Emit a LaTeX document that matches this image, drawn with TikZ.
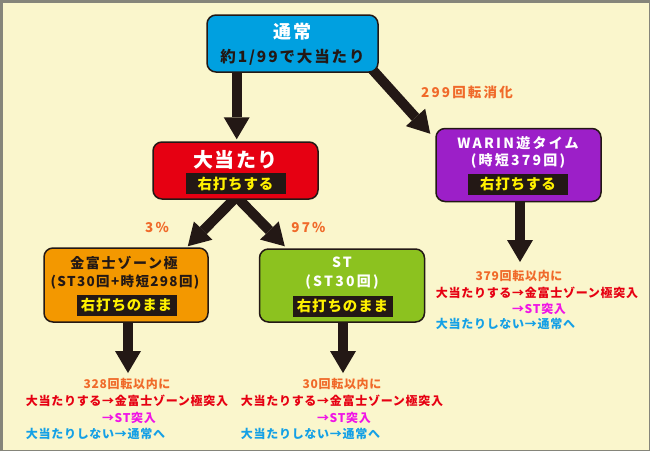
\documentclass[tikz,border=0pt]{standalone}
\usepackage{fontspec}
\usetikzlibrary{arrows.meta}
\newfontfamily\jpa{Noto Sans CJK JP}[LetterSpace=6]
\newfontfamily\jpb{Noto Sans CJK JP}[LetterSpace=12]
\newfontfamily\jpd{Noto Sans CJK JP}[LetterSpace=10]
\newfontfamily\jpc{Noto Sans CJK JP}[LetterSpace=16]
\definecolor{bgc}{HTML}{FAF6CC}
\definecolor{framec}{HTML}{85857A}
\definecolor{cblue}{HTML}{00A0E0}
\definecolor{cred}{HTML}{E60012}
\definecolor{cpurple}{HTML}{9C1FC8}
\definecolor{corange}{HTML}{F39800}
\definecolor{cgreen}{HTML}{8CC21F}
\definecolor{carrow}{HTML}{231815}
\definecolor{torange}{HTML}{F06A2A}
\definecolor{tred}{HTML}{E60012}
\definecolor{tmag}{HTML}{F014E6}
\definecolor{tblue}{HTML}{14A0E6}
\definecolor{tyellow}{HTML}{FFF100}
\pgfdeclarelayer{bg}
\pgfdeclarelayer{background}
\pgfsetlayers{bg,background,main}
\tikzset{
  box/.style={draw=carrow, line width=1.5pt, rounded corners=9pt, inner sep=0pt},
  bar/.style={fill=carrow, inner sep=0pt, minimum width=100pt, minimum height=21pt, text=tyellow, font=\jpa\bfseries\fontsize{14.5pt}{14.5pt}\selectfont},
  txt/.style={inner sep=0pt, font=\jpa\bfseries\fontsize{12pt}{12pt}\selectfont},
  lbl/.style={inner sep=0pt, text=torange, font=\jpc\bfseries\fontsize{13.5pt}{13.5pt}\selectfont},
  bigarrow/.style={draw=carrow, line width=10pt, -{Triangle[length=22pt,width=26pt,line width=0pt]}},
}
\begin{document}
\begin{tikzpicture}[x=1pt,y=-1pt]
\useasboundingbox (0,0) rectangle (650,451);
\begin{pgfonlayer}{bg}
\fill[bgc] (0,0) rectangle (650,451);
\draw[framec, line width=2.5pt] (1.25,451) -- (1.25,1.25) -- (650,1.25);
\draw[framec, line width=1pt] (0,450.5) -- (649.5,450.5) -- (649.5,0);
\end{pgfonlayer}

% boxes
\node[box, fill=cblue, minimum width=171pt, minimum height=57pt] (tsujo) at (292.5,43.5) {};
\node[inner sep=0pt, text=white, font=\jpa\bfseries\fontsize{18pt}{18pt}\selectfont] (tsujoT) at (292.5,32) {通常};
\node[inner sep=0pt, text=carrow, font=\jpb\bfseries\fontsize{15.5pt}{15.5pt}\selectfont] (tsujoS) at (292.5,57) {約1/99で大当たり};

\node[box, fill=cred, minimum width=165pt, minimum height=57pt] (oatari) at (235.5,170.5) {};
\node[inner sep=0pt, text=white, font=\jpa\bfseries\fontsize{20pt}{20pt}\selectfont] (oatariT) at (235.5,159.5) {大当たり};
\node[bar] (oatariB) at (235.5,183.5) {右打ちする};

\node[box, fill=cpurple, minimum width=165pt, minimum height=73pt] (warin) at (518.5,165) {};
\node[inner sep=0pt, text=white, font=\jpc\bfseries\fontsize{14pt}{14pt}\selectfont] (warinT) at (518,143) {WARIN遊タイム};
\node[inner sep=0pt, text=white, font=\jpc\bfseries\fontsize{14pt}{14pt}\selectfont] (warinS) at (518,161) {(時短379回)};
\node[bar] (warinB) at (518,184) {右打ちする};

\node[box, fill=corange, minimum width=164pt, minimum height=74pt] (kin) at (126,285) {};
\node[inner sep=0pt, text=carrow, font=\jpb\bfseries\fontsize{14pt}{14pt}\selectfont] (kinT) at (124,263) {金富士ゾーン極};
\node[inner sep=0pt, text=carrow, font=\jpd\bfseries\fontsize{13.5pt}{13.5pt}\selectfont] (kinS) at (125,282) {(ST30回+時短298回)};
\node[bar] (kinB) at (126.5,305) {右打ちのまま};

\node[box, fill=cgreen, minimum width=165pt, minimum height=73pt] (st) at (342,285.5) {};
\node[inner sep=0pt, text=white, font=\jpc\bfseries\fontsize{14pt}{14pt}\selectfont] (stT) at (342,262) {ST};
\node[inner sep=0pt, text=white, font=\jpc\bfseries\fontsize{14pt}{14pt}\selectfont] (stS) at (342,282) {(ST30回)};
\node[bar] (stB) at (342.5,306) {右打ちのまま};

% labels
\node[lbl] (l299) at (467,92) {299回転消化};
\node[lbl] (l3) at (157,227) {3\%};
\node[lbl] (l97) at (308.5,227) {97\%};

% result texts
\node[txt, text=torange] (k1) at (127,384) {328回転以内に};
\node[txt, text=tred] (k2) at (127,401) {大当たりする→金富士ゾーン極突入};
\node[txt, text=tmag] (k3) at (129,418) {→ST突入};
\node[txt, text=tblue, anchor=west] (k4) at (k2.west |- 0,434) {大当たりしない→通常へ};

\node[txt, text=torange] (s1) at (342,384) {30回転以内に};
\node[txt, text=tred] (s2) at (342,401) {大当たりする→金富士ゾーン極突入};
\node[txt, text=tmag] (s3) at (344,418) {→ST突入};
\node[txt, text=tblue, anchor=west] (s4) at (s2.west |- 0,434) {大当たりしない→通常へ};

\node[txt, text=torange] (w1) at (519,276) {379回転以内に};
\node[txt, text=tred] (w2) at (537,293) {大当たりする→金富士ゾーン極突入};
\node[txt, text=tmag] (w3) at (539,309) {→ST突入};
\node[txt, text=tblue, anchor=west] (w4) at (w2.west |- 0,324) {大当たりしない→通常へ};

% arrow tips
\coordinate (wtip) at (520,262);
\coordinate (ktip) at (128,373);
\coordinate (stip) at (343,373);

\begin{pgfonlayer}{background}
\draw[bigarrow] ([yshift=3pt]tsujo.south -| 236.7,0) -- ([xshift=1.2pt,yshift=2pt]oatari.north);
\draw[bigarrow] ([xshift=-8pt,yshift=5pt]tsujo.south east) -- ([xshift=-5pt,yshift=-6pt]warin.north west);
\draw[bigarrow] ([xshift=3pt,yshift=5pt]oatari.south) -- ([xshift=-21pt,yshift=1pt]kin.north east);
\draw[bigarrow] ([xshift=-1pt,yshift=5pt]oatari.south) -- ([xshift=26pt,yshift=2pt]st.north west);
\draw[bigarrow] ([yshift=3pt]warin.south -| wtip) -- (wtip);
\draw[bigarrow] ([yshift=3pt]kin.south -| ktip) -- (ktip);
\draw[bigarrow] ([yshift=3pt]st.south -| stip) -- (stip);
\end{pgfonlayer}
\end{tikzpicture}
\end{document}
